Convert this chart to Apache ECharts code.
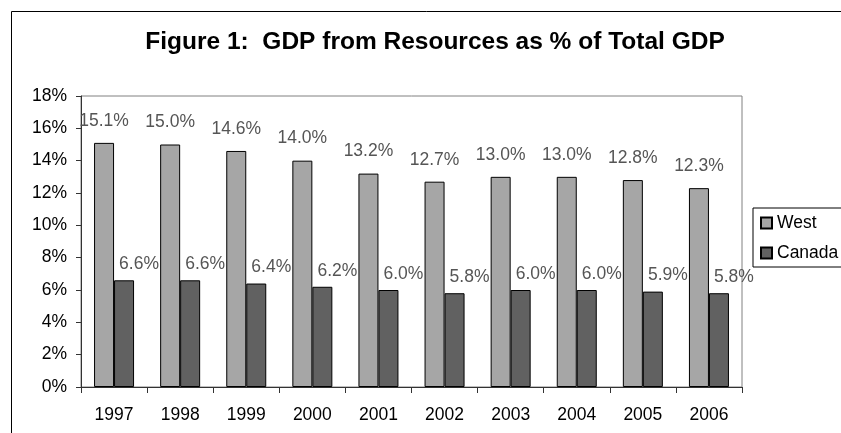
<!DOCTYPE html>
<html>
<head>
<meta charset="utf-8">
<script src="https://cdn.jsdelivr.net/npm/echarts@6/dist/echarts.min.js"></script>
<style>
html,body{margin:0;padding:0;background:#fff;}
#chart{width:841px;height:433px;}
</style>
</head>
<body>
<div id="chart"></div>
<script>
var titleText = 'Figure 1:  GDP from Resources as % of Total GDP';
var years = ['1997','1998','1999','2000','2001','2002','2003','2004','2005','2006'];
var westValues = [15.1, 15.0, 14.6, 14.0, 13.2, 12.7, 13.0, 13.0, 12.8, 12.3];
var canadaValues = [6.6, 6.6, 6.4, 6.2, 6.0, 5.8, 6.0, 6.0, 5.9, 5.8];
var seriesNames = ['West', 'Canada'];
var yMin = 0, yMax = 18, yInterval = 2;

var FONT = '"Liberation Sans", Arial, sans-serif';
var chart = echarts.init(document.getElementById('chart'), null, {renderer: 'canvas'});
var pctFmt = function (p) { return p.value.toFixed(1) + '%'; };

chart.setOption({
  animation: false,
  backgroundColor: '#fff',
  graphic: [{
    type: 'rect', left: 9, top: 9, z: -10, silent: true,
    shape: {width: 900, height: 500},
    style: {fill: 'none', stroke: '#000', lineWidth: 1}
  }],
  title: {
    text: titleText, left: 430, textAlign: 'center', top: 25,
    textStyle: {fontFamily: FONT, fontSize: 24.5, fontWeight: 'bold', color: '#000'}
  },
  legend: {
    orient: 'vertical', left: 753, top: 208,
    padding: [6, 40, 5, 7], itemGap: 12,
    itemWidth: 11, itemHeight: 11, icon: 'rect',
    borderColor: '#000', borderWidth: 1,
    textStyle: {fontFamily: FONT, fontSize: 17.5, color: '#000'},
    data: seriesNames
  },
  grid: {
    left: 81, right: 99, top: 96, bottom: 46, containLabel: false,
    show: true, borderColor: '#808080', borderWidth: 1
  },
  xAxis: {
    type: 'category', data: years,
    axisLine: {lineStyle: {color: '#333', width: 1}},
    axisTick: {show: true, alignWithLabel: false, length: 6, lineStyle: {color: '#333'}},
    axisLabel: {fontFamily: FONT, fontSize: 17.5, color: '#000', margin: 19}
  },
  yAxis: {
    type: 'value', min: yMin, max: yMax, interval: yInterval,
    splitLine: {show: false},
    axisLine: {show: true, lineStyle: {color: '#333', width: 1}},
    axisTick: {show: true, length: 5, lineStyle: {color: '#333'}},
    axisLabel: {fontFamily: FONT, fontSize: 17.5, color: '#000', margin: 14, formatter: '{value}%'}
  },
  series: [{
    name: seriesNames[0], type: 'bar', data: westValues,
    barWidth: 20, barGap: '0%',
    itemStyle: {color: '#a6a6a6', borderColor: '#000', borderWidth: 1},
    label: {show: true, position: 'top', distance: 13, formatter: pctFmt,
      fontFamily: FONT, fontSize: 17.5, color: '#555'}
  }, {
    name: seriesNames[1], type: 'bar', data: canadaValues,
    barWidth: 20, barGap: '0%',
    itemStyle: {color: '#616161', borderColor: '#000', borderWidth: 1},
    label: {show: true, position: 'top', distance: 7, offset: [15, 0], formatter: pctFmt,
      fontFamily: FONT, fontSize: 17.5, color: '#555'}
  }]
});
</script>
</body>
</html>
